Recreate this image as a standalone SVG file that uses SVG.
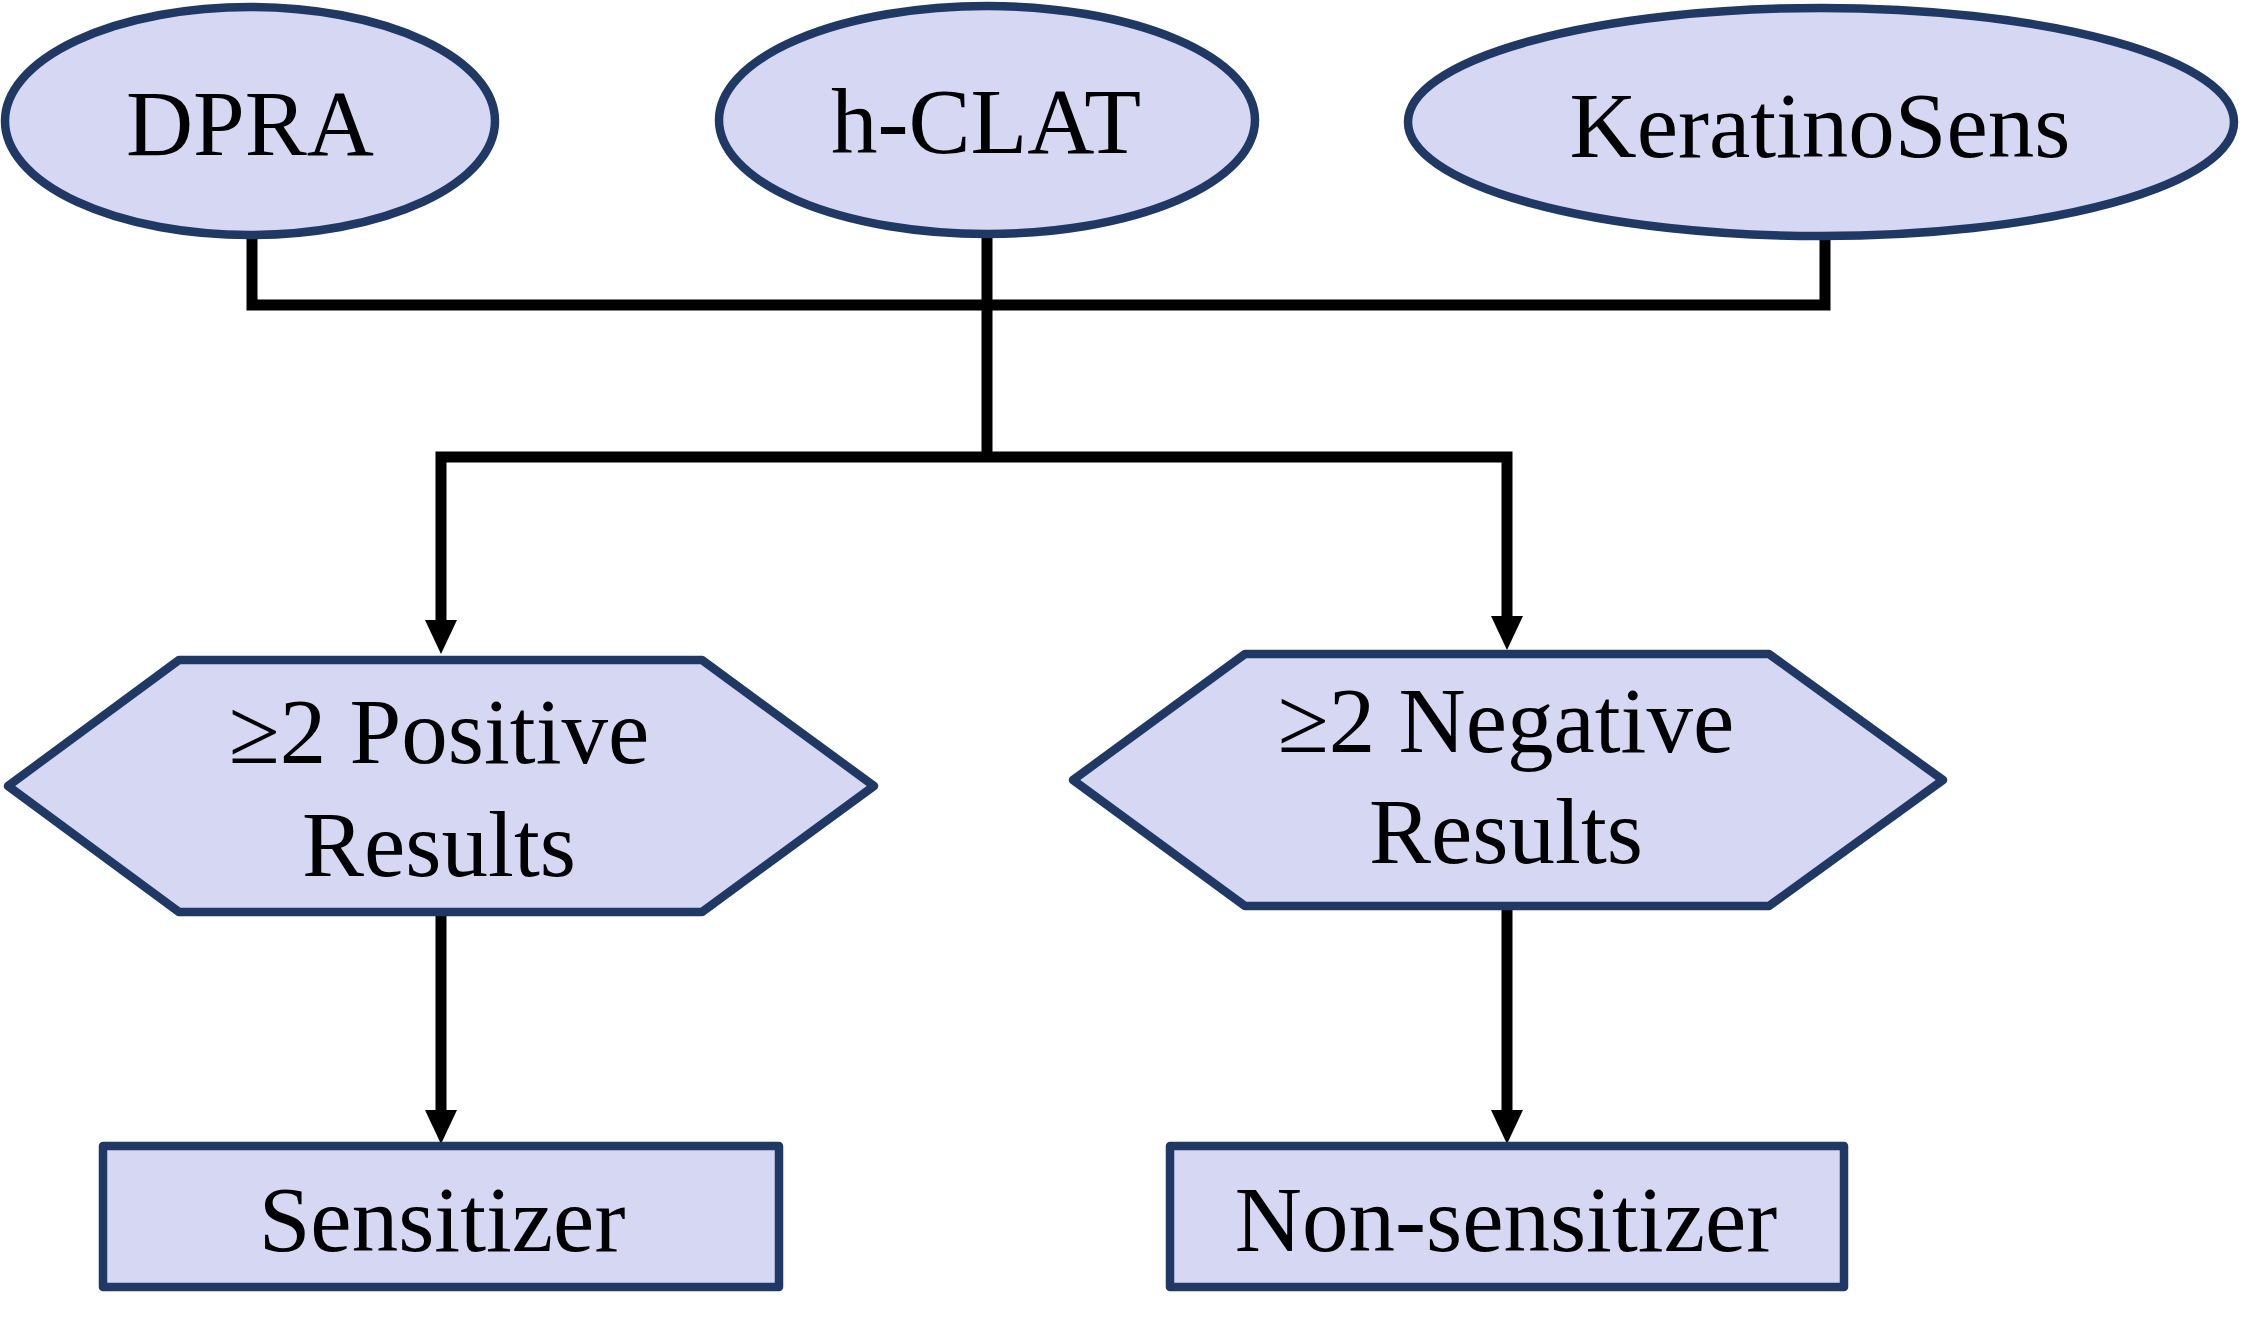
<svg xmlns="http://www.w3.org/2000/svg" width="2241" height="1329" viewBox="0 0 2241 1329">
<style>
.node{fill:#D6D7F3;stroke:#203864;stroke-width:8.5;stroke-linejoin:round}
.lbl{font-family:"Liberation Serif","Times New Roman",serif;font-size:93px;fill:#000;text-anchor:middle}
.wire{fill:none;stroke:#000;stroke-width:11;stroke-linejoin:miter}
</style>
<defs>
<marker id="arr" markerUnits="userSpaceOnUse" markerWidth="34" markerHeight="34" refX="0" refY="16" orient="auto" viewBox="0 0 34 32">
<path d="M0,0 L34,16 L0,32 z" fill="#000"/>
</marker>
</defs>
<rect width="2241" height="1329" fill="#fff"/>
<g id="connectors">
<path class="wire" d="M252 236 V305 H1825 V240"/>
<path class="wire" d="M987 237 V457"/>
<path class="wire" d="M987 457 H441 V620" marker-end="url(#arr)"/>
<path class="wire" d="M987 457 H1507 V616" marker-end="url(#arr)"/>
<path class="wire" d="M441 912 V1110" marker-end="url(#arr)"/>
<path class="wire" d="M1507 906 V1110" marker-end="url(#arr)"/>
</g>
<g id="dpra">
<ellipse class="node" cx="250" cy="121" rx="245" ry="114"/>
<text class="lbl" x="250" y="155">DPRA</text>
</g>
<g id="hclat">
<ellipse class="node" cx="987" cy="120" rx="268" ry="114"/>
<text class="lbl" x="986" y="153">h-CLAT</text>
</g>
<g id="keratinosens">
<ellipse class="node" cx="1821" cy="122" rx="413" ry="114"/>
<text class="lbl" x="1820" y="157">KeratinoSens</text>
</g>
<g id="positive">
<polygon class="node" points="179,660 702,660 874,786 702,912 179,912 8,786"/>
<text class="lbl" x="439" y="763">≥2 Positive</text>
<text class="lbl" x="439" y="876">Results</text>
</g>
<g id="negative">
<polygon class="node" points="1245,654 1769,654 1943,780 1769,906 1245,906 1073,780"/>
<text class="lbl" x="1506" y="752">≥2 Negative</text>
<text class="lbl" x="1506" y="863">Results</text>
</g>
<g id="sensitizer">
<rect class="node" x="103" y="1146" width="676" height="141"/>
<text class="lbl" x="442" y="1251">Sensitizer</text>
</g>
<g id="nonsensitizer">
<rect class="node" x="1170" y="1146" width="674" height="141"/>
<text class="lbl" x="1506" y="1251">Non-sensitizer</text>
</g>
</svg>
